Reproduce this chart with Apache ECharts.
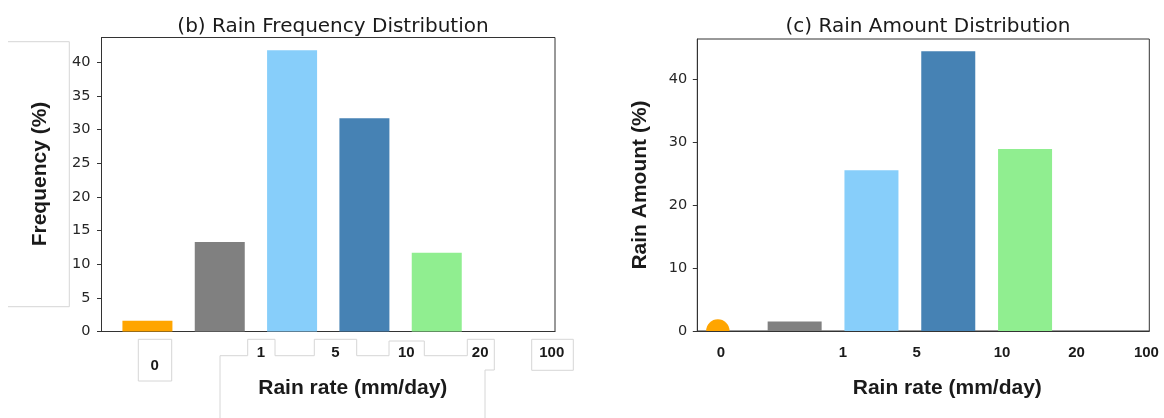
<!DOCTYPE html>
<html>
<head>
<meta charset="utf-8">
<script src="https://cdn.jsdelivr.net/npm/echarts@6/dist/echarts.min.js"></script>
<style>
html,body{margin:0;padding:0;background:#fff;}
#chart{width:1164px;height:418px;}
</style>
</head>
<body>
<div id="chart"></div>
<script>
// ---- data ----
const xTickLabels = ['0', '1', '5', '10', '20', '100'];
const binPositions = [0, 1, 2, 3, 4, 5];
const freqValues = [1.6, 13.3, 41.8, 31.7, 11.7, 0];
const amountValues = [0, 1.5, 25.5, 44.4, 28.9, 0];
const barColors = ['#FFA500', '#808080', '#87CEFA', '#4682B4', '#90EE90', '#FFA500'];
const freqTickPos = [0.1, 1.57, 2.6, 3.58, 4.6, 5.59];
const amountTickPos = [0.04, 1.63, 2.59, 3.7, 4.67, 5.58];
const freqYTicks = [0, 5, 10, 15, 20, 25, 30, 35, 40];
const amountYTicks = [0, 10, 20, 30, 40];

// ---- build ----
const chart = echarts.init(document.getElementById('chart'), null, {renderer: 'canvas'});

const gridB = {left: 101.5, top: 37.5, width: 453.5, height: 294};
const gridC = {left: 697.3, top: 39, width: 452, height: 292};
const xMinB = -0.635, xMaxB = 5.635;
const xMinC = -0.2675, xMaxC = 5.6175;

function labelFor(posArr) {
  return function (v) {
    let best = 0, d = Infinity;
    posArr.forEach((p, i) => { if (Math.abs(p - v) < d) { d = Math.abs(p - v); best = i; } });
    return best === 0 && posArr === freqTickPos ? '{lo|' + xTickLabels[best] + '}' : xTickLabels[best];
  };
}

const xLabelStyle = {
  fontFamily: 'Liberation Sans', fontSize: 15, fontWeight: 'bold', color: '#1a1a1a'
};

function xAxisCfg(gridIndex, min, max, posArr) {
  return {
    type: 'value', gridIndex, min, max,
    axisLine: {show: true, onZero: false, lineStyle: {color: '#333', width: 1}},
    axisTick: {show: false},
    splitLine: {show: false},
    axisLabel: Object.assign({
      customValues: posArr,
      formatter: labelFor(posArr),
      margin: 14,
      hideOverlap: false,
      showMinLabel: true, showMaxLabel: true,
      rich: {lo: Object.assign({padding: [13, 0, 0, 0]}, xLabelStyle)}
    }, xLabelStyle)
  };
}

function yAxisCfg(gridIndex, max, ticks, margin) {
  return {
    type: 'value', gridIndex, min: 0, max,
    axisLine: {show: true, onZero: false, lineStyle: {color: '#333', width: 1}},
    axisTick: {show: true, customValues: ticks, length: 4.5, lineStyle: {color: '#333'}},
    splitLine: {show: false},
    axisLabel: {
      customValues: ticks, margin,
      fontFamily: 'DejaVu Sans', fontSize: 14.5, color: '#262626'
    }
  };
}

const freqBars = binPositions.map((p, i) => ({value: [p, freqValues[i]], itemStyle: {color: barColors[i]}}));
const amountBars = binPositions.slice(1).map((p, i) => ({value: [p, amountValues[i + 1]], itemStyle: {color: barColors[i + 1]}}));

const boxStroke = {stroke: '#d6d6d6', lineWidth: 1, fill: null};

const option = {
  animation: false,
  backgroundColor: '#fff',
  title: [
    {text: '(b) Rain Frequency Distribution', left: 328, top: 12, textAlign: 'center',
     textStyle: {fontFamily: 'DejaVu Sans', fontSize: 20, fontWeight: 'normal', color: '#1a1a1a'}},
    {text: '(c) Rain Amount Distribution', left: 923, top: 12, textAlign: 'center',
     textStyle: {fontFamily: 'DejaVu Sans', fontSize: 20, fontWeight: 'normal', color: '#1a1a1a'}}
  ],
  grid: [
    Object.assign({show: true, borderColor: '#333', borderWidth: 1, backgroundColor: 'transparent'}, gridB),
    Object.assign({show: true, borderColor: '#333', borderWidth: 1, backgroundColor: 'transparent'}, gridC)
  ],
  xAxis: [
    xAxisCfg(0, xMinB, xMaxB, freqTickPos),
    xAxisCfg(1, xMinC, xMaxC, amountTickPos)
  ],
  yAxis: [
    yAxisCfg(0, 43.7, freqYTicks, 11),
    yAxisCfg(1, 46.35, amountYTicks, 10)
  ],
  series: [
    {type: 'bar', xAxisIndex: 0, yAxisIndex: 0, barWidth: 50, data: freqBars, z: 2},
    {type: 'bar', xAxisIndex: 1, yAxisIndex: 1, barWidth: 54, data: amountBars, z: 2},
    {type: 'custom', xAxisIndex: 1, yAxisIndex: 1, clip: true, z: 3,
     data: [[binPositions[0], amountValues[0]]],
     renderItem: function (params, api) {
       const pt = api.coord([api.value(0), api.value(1)]);
       return {type: 'circle', shape: {cx: pt[0], cy: pt[1], r: 11.7}, style: {fill: barColors[0]}};
     }}
  ],
  graphic: [
    // faint outline boxes present in the reference image
    {type: 'polyline', silent: true, z: -1, shape: {points: [[8, 41.7], [69.3, 41.7], [69.3, 306.7], [8, 306.7]]}, style: boxStroke},
    {type: 'rect', silent: true, z: -1, shape: {x: 138.3, y: 339.3, width: 33.4, height: 41.7}, style: boxStroke},
    {type: 'rect', silent: true, z: -1, shape: {x: 531.7, y: 339.3, width: 41.6, height: 31}, style: boxStroke},
    {type: 'polyline', silent: true, z: -1, shape: {points: [
      [220, 420], [220, 355.7], [247.7, 355.7], [247.7, 339.3], [275, 339.3], [275, 355.7],
      [314.3, 355.7], [314.3, 339.3], [356.7, 339.3], [356.7, 355.7], [389, 355.7], [389, 341],
      [424.3, 341], [424.3, 355.7], [467.3, 355.7], [467.3, 339.3], [494.3, 339.3], [494.3, 370],
      [485, 370], [485, 420]]}, style: boxStroke},
    // axis titles
    {type: 'text', x: 40, y: 174, rotation: Math.PI / 2,
     style: {text: 'Frequency (%)', fontFamily: 'Liberation Sans', fontSize: 21, fontWeight: 'bold', fill: '#1a1a1a', align: 'center', verticalAlign: 'middle'}},
    {type: 'text', x: 640, y: 185, rotation: Math.PI / 2,
     style: {text: 'Rain Amount (%)', fontFamily: 'Liberation Sans', fontSize: 21, fontWeight: 'bold', fill: '#1a1a1a', align: 'center', verticalAlign: 'middle'}},
    {type: 'text', x: 352.8, y: 388,
     style: {text: 'Rain rate (mm/day)', fontFamily: 'Liberation Sans', fontSize: 21, fontWeight: 'bold', fill: '#1a1a1a', align: 'center', verticalAlign: 'middle'}},
    {type: 'text', x: 947.3, y: 388,
     style: {text: 'Rain rate (mm/day)', fontFamily: 'Liberation Sans', fontSize: 21, fontWeight: 'bold', fill: '#1a1a1a', align: 'center', verticalAlign: 'middle'}}
  ]
};
chart.setOption(option);
</script>
</body>
</html>
